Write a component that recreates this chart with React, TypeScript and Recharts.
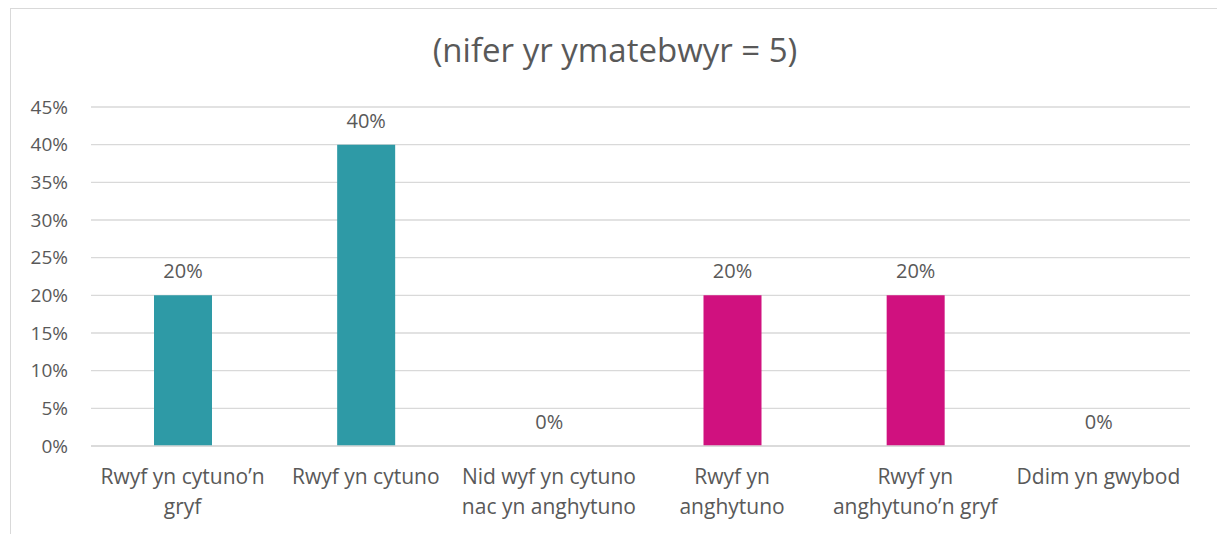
import React from 'react';
import { BarChart, Bar, XAxis, YAxis, CartesianGrid, Cell, LabelList } from 'recharts';

const categories = [
  'Rwyf yn cytuno’n\ngryf',
  'Rwyf yn cytuno',
  'Nid wyf yn cytuno\nnac yn anghytuno',
  'Rwyf yn\nanghytuno',
  'Rwyf yn\nanghytuno’n gryf',
  'Ddim yn gwybod',
];
const percentages = [20, 40, 0, 20, 20, 0];
const yTicks = [0, 5, 10, 15, 20, 25, 30, 35, 40, 45];
const title = '(nifer yr ymatebwyr = 5)';

const TEAL = '#2E9AA6';
const PINK = '#D0117F';
const barColors = [TEAL, TEAL, TEAL, PINK, PINK, PINK];

const FONT = '"Open Sans", sans-serif';
const TEXT = '#595959';

const data = categories.map((name, i) => ({ name, value: percentages[i] }));

const CategoryTick = (props: any) => {
  const { x, y, payload } = props;
  const lines: string[] = String(payload.value).split('\n');
  return (
    <text x={x} y={y} textAnchor="middle" fill={TEXT} fontSize={21} fontFamily={FONT}>
      {lines.map((l, i) => (
        <tspan key={i} x={x} dy={30}>
          {l}
        </tspan>
      ))}
    </text>
  );
};

// value label drawn above each bar, including the empty ones
const ValueLabel = (props: any) => {
  const { x, y, width, value } = props;
  return (
    <text
      x={Number(x) + Number(width) / 2}
      y={Number(y) - 17}
      textAnchor="middle"
      fill={TEXT}
      fontSize={20}
      fontFamily={FONT}
    >
      {`${value}%`}
    </text>
  );
};

const App: React.FC = () => {
  return (
    <div style={{ position: 'absolute', left: 0, top: 0, width: 1217, height: 534, overflow: 'hidden', background: '#fff' }}>
      <div
        style={{
          position: 'absolute',
          left: 10,
          top: 8,
          width: 1300,
          height: 600,
          borderLeft: '1px solid #d9d9d9',
          borderTop: '1px solid #d9d9d9',
        }}
      />
      <div
        style={{
          position: 'absolute',
          left: 0,
          width: 1230,
          top: 29,
          textAlign: 'center',
          fontFamily: FONT,
          fontSize: 33,
          color: TEXT,
          lineHeight: '42px',
        }}
      >
        {title}
      </div>
      <div style={{ position: 'absolute', left: 0, top: 0 }}>
        <BarChart
          width={1217}
          height={534}
          data={data}
          margin={{ top: 107, right: 27, bottom: 0, left: 21 }}
        >
          <CartesianGrid vertical={false} stroke="#d9d9d9" strokeWidth={1.3} />
          <XAxis
            dataKey="name"
            axisLine={{ stroke: '#d9d9d9', strokeWidth: 1.3 }}
            tickLine={false}
            interval={0}
            height={88}
            tick={<CategoryTick />}
          />
          <YAxis
            width={70}
            domain={[0, 45]}
            ticks={yTicks}
            tickFormatter={(v: number) => `${v}%`}
            axisLine={false}
            tickLine={false}
            tickSize={0}
            tickMargin={23}
            tick={{ fill: TEXT, fontSize: 19, fontFamily: FONT }}
          />
          <Bar dataKey="value" barSize={58} minPointSize={0.01} isAnimationActive={false}>
            {data.map((_, i) => (
              <Cell key={i} fill={barColors[i]} />
            ))}
            <LabelList dataKey="value" content={<ValueLabel />} />
          </Bar>
        </BarChart>
      </div>
    </div>
  );
};

export default App;
